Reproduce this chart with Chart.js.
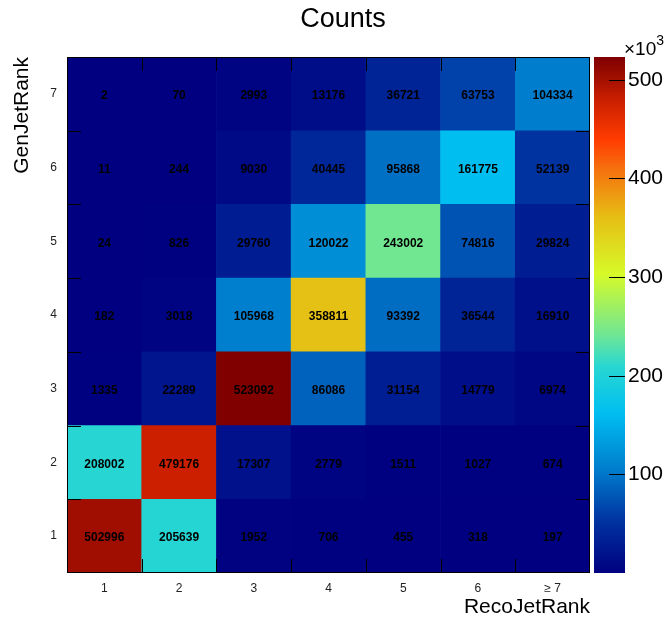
<!DOCTYPE html>
<html>
<head>
<meta charset="utf-8">
<script src="https://cdn.jsdelivr.net/npm/chart.js@4.4.0/dist/chart.umd.min.js"></script>
<style>
  html, body { margin: 0; padding: 0; background: #fff; }
  #wrap { width: 670px; height: 633px; }
</style>
</head>
<body>
<div id="wrap"><canvas id="chart"></canvas></div>
<script>
const recoLabels = ['1', '2', '3', '4', '5', '6', '\u2265 7'];
const genLabels = ['1', '2', '3', '4', '5', '6', '7'];

// counts per GenJetRank row, one entry per RecoJetRank column
const genRank1 = [502996, 205639, 1952, 706, 455, 318, 197];
const genRank2 = [208002, 479176, 17307, 2779, 1511, 1027, 674];
const genRank3 = [1335, 22289, 523092, 86086, 31154, 14779, 6974];
const genRank4 = [182, 3018, 105968, 358811, 93392, 36544, 16910];
const genRank5 = [24, 826, 29760, 120022, 243002, 74816, 29824];
const genRank6 = [11, 244, 9030, 40445, 95868, 161775, 52139];
const genRank7 = [2, 70, 2993, 13176, 36721, 63753, 104334];

const zTicks = [100000, 200000, 300000, 400000, 500000];

const rows = [genRank1, genRank2, genRank3, genRank4, genRank5, genRank6, genRank7];
const zMax = Math.max(...rows.flat());

// rainbow palette, position along the z range -> rgb
const palette = [
  [0.00, [0, 0, 128]],
  [0.10, [0, 50, 160]],
  [0.20, [0, 125, 205]],
  [0.31, [0, 190, 240]],
  [0.40, [40, 215, 210]],
  [0.46, [110, 230, 150]],
  [0.58, [215, 250, 40]],
  [0.69, [230, 190, 20]],
  [0.78, [245, 115, 15]],
  [0.84, [255, 60, 0]],
  [0.92, [200, 30, 0]],
  [0.96, [160, 15, 0]],
  [1.00, [128, 0, 0]]
];

function paletteColor(f) {
  f = Math.min(1, Math.max(0, f));
  for (let i = 1; i < palette.length; i++) {
    const [f1, c1] = palette[i];
    const [f0, c0] = palette[i - 1];
    if (f <= f1) {
      const t = (f - f0) / (f1 - f0);
      const c = c0.map((v, k) => Math.round(v + (c1[k] - v) * t));
      return `rgb(${c[0]}, ${c[1]}, ${c[2]})`;
    }
  }
  return 'rgb(128, 0, 0)';
}

const fontFamily = '"Liberation Sans", Arial, Helvetica, sans-serif';

// histogram title
const histTitle = {
  id: 'histTitle',
  afterDraw(chart) {
    const ctx = chart.ctx;
    ctx.save();
    ctx.font = `27px ${fontFamily}`;
    ctx.fillStyle = '#000';
    ctx.textAlign = 'center';
    ctx.textBaseline = 'alphabetic';
    ctx.fillText('Counts', 343, 27);
    ctx.restore();
  }
};

// cell numbers
const cellLabels = {
  id: 'cellLabels',
  afterDatasetsDraw(chart) {
    const ctx = chart.ctx;
    ctx.save();
    ctx.font = `bold 12px ${fontFamily}`;
    ctx.fillStyle = '#000';
    ctx.textAlign = 'center';
    ctx.textBaseline = 'middle';
    chart.data.datasets.forEach((ds, i) => {
      chart.getDatasetMeta(i).data.forEach((bar, j) => {
        ctx.fillText(String(ds.counts[j]), bar.x, (bar.y + bar.base) / 2 + 2);
      });
    });
    ctx.restore();
  }
};

// frame with short ticks at the bin edges, plus the colour scale
const frameAndPalette = {
  id: 'frameAndPalette',
  afterDraw(chart) {
    const ctx = chart.ctx;
    const area = chart.chartArea;
    const xs = chart.scales.x;
    const ys = chart.scales.y;
    const zs = chart.scales.z;
    const tick = 14;
    ctx.save();
    ctx.strokeStyle = '#000';
    ctx.lineWidth = 1;

    ctx.beginPath();
    for (let i = 1; i < recoLabels.length; i++) {
      const x = Math.round((xs.getPixelForValue(i - 1) + xs.getPixelForValue(i)) / 2) + 0.5;
      ctx.moveTo(x, area.top); ctx.lineTo(x, area.top + tick);
      ctx.moveTo(x, area.bottom); ctx.lineTo(x, area.bottom - tick);
    }
    for (let i = 1; i < genLabels.length; i++) {
      const y = Math.round(ys.getPixelForValue(i)) + 0.5;
      ctx.moveTo(area.left, y); ctx.lineTo(area.left + tick, y);
      ctx.moveTo(area.right, y); ctx.lineTo(area.right - tick, y);
    }
    ctx.stroke();
    ctx.strokeRect(Math.round(area.left) + 0.5, Math.round(area.top) + 0.5,
      Math.round(area.right - area.left) - 1, Math.round(area.bottom - area.top) - 1);

    // colour bar
    const x0 = area.right + 4, x1 = area.right + 35;
    const yTop = zs.getPixelForValue(zMax), yBot = zs.getPixelForValue(0);
    const grad = ctx.createLinearGradient(0, yBot, 0, yTop);
    palette.forEach(([f]) => grad.addColorStop(f, paletteColor(f)));
    ctx.fillStyle = grad;
    ctx.fillRect(x0, yTop, x1 - x0, yBot - yTop);

    ctx.beginPath();
    zTicks.forEach(v => {
      const y = Math.round(zs.getPixelForValue(v)) + 0.5;
      ctx.moveTo(x1 - 16, y); ctx.lineTo(x1, y);
    });
    ctx.stroke();

    // exponent label of the colour scale
    ctx.fillStyle = '#000';
    ctx.textBaseline = 'alphabetic';
    ctx.textAlign = 'left';
    ctx.font = `19px ${fontFamily}`;
    ctx.fillText('\u00d710', x1 - 1, yTop - 2);
    const w = ctx.measureText('\u00d710').width;
    ctx.font = `14px ${fontFamily}`;
    ctx.fillText('3', x1 - 1 + w, yTop - 12);
    ctx.restore();
  }
};

const datasets = rows.map((row, i) => ({
  label: genLabels[i],
  data: row.map(() => 1),
  counts: row,
  backgroundColor: row.map(v => paletteColor(v / zMax)),
  borderWidth: 0,
  barPercentage: 1,
  categoryPercentage: 1,
  xAxisID: 'x',
  yAxisID: 'y'
}));

new Chart(document.getElementById('chart'), {
  type: 'bar',
  data: { labels: recoLabels, datasets: datasets },
  options: {
    responsive: true,
    maintainAspectRatio: false,
    animation: false,
    layout: { padding: { top: 57, left: 0, right: 0, bottom: 0 } },
    plugins: {
      legend: { display: false },
      tooltip: { enabled: false },
      title: { display: false }
    },
    scales: {
      x: {
        stacked: true,
        grid: { display: false, drawTicks: false, tickLength: 0 },
        border: { display: false },
        ticks: { color: '#222', font: { family: fontFamily, size: 12 }, padding: 8, maxRotation: 0 },
        title: {
          display: true, text: 'RecoJetRank', align: 'end', color: '#000',
          font: { family: fontFamily, size: 21 }, padding: { top: 0, bottom: 13 }
        },
        afterFit(scale) { scale.height = 60; }
      },
      y: {
        stacked: true,
        min: 0,
        max: genLabels.length,
        grid: { display: false, drawTicks: false, tickLength: 0 },
        border: { display: false },
        afterBuildTicks(scale) {
          scale.ticks = genLabels.map((_, i) => ({ value: i + 0.5 }));
        },
        ticks: {
          color: '#222', font: { family: fontFamily, size: 12 }, padding: 10,
          callback: (v, i) => genLabels[i]
        },
        title: {
          display: true, text: 'GenJetRank', align: 'end', color: '#000',
          font: { family: fontFamily, size: 21 }, padding: { top: 10, bottom: 0 }
        },
        afterFit(scale) { scale.width = 67; }
      },
      z: {
        type: 'linear',
        position: 'right',
        min: 0,
        max: zMax,
        grid: { display: false, drawTicks: false, tickLength: 0 },
        border: { display: false },
        afterBuildTicks(scale) {
          scale.ticks = zTicks.map(v => ({ value: v }));
        },
        ticks: {
          color: '#000', font: { family: fontFamily, size: 21 }, padding: 38,
          callback: v => String(v / 1000)
        },
        afterFit(scale) { scale.width = 80; }
      }
    }
  },
  plugins: [cellLabels, frameAndPalette, histTitle]
});
</script>
</body>
</html>
